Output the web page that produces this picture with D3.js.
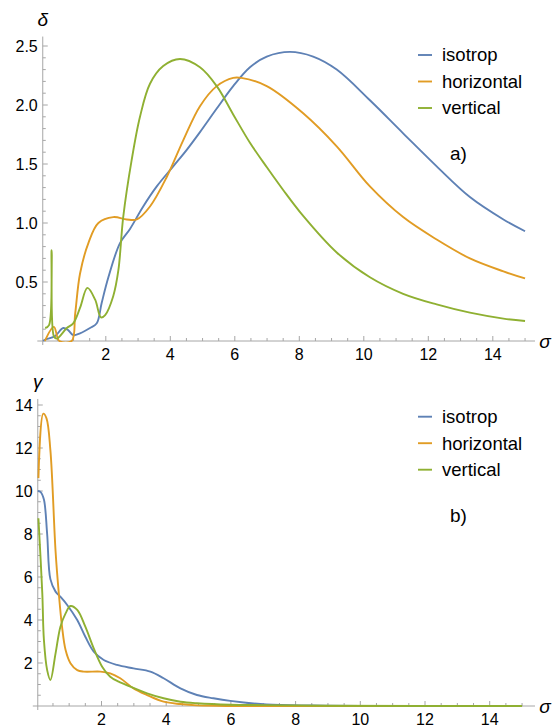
<!DOCTYPE html>
<html>
<head>
<meta charset="utf-8">
<script src="https://cdn.jsdelivr.net/npm/d3@7"></script>
<style>
  body { margin: 0; background: #fff; }
  text { font-family: "Liberation Sans", Arial, sans-serif; fill: #000; }
</style>
</head>
<body>
<svg id="chart" width="555" height="727"></svg>
<script>
// series names + colours (Mathematica defaults)
var seriesNames = ['isotrop', 'horizontal', 'vertical'];
var seriesColors = ['#5E81B5', '#E19C24', '#8FB032'];

// panel a) delta(sigma)
var deltaIsoSigma = [0.06, 0.11, 0.42, 0.68, 0.84, 0.99, 1.2, 1.51, 1.72, 1.87, 2.08, 2.44, 2.75, 3.16, 3.58, 4.09, 4.51, 4.92, 5.44, 5.95, 6.47, 6.99, 7.71, 8.43, 9.16, 10.19, 11.22, 12.26, 13.29, 14.33, 15];
var deltaIso      = [0.0, 0.01, 0.04, 0.11, 0.09, 0.05, 0.065, 0.11, 0.15, 0.32, 0.54, 0.83, 0.95, 1.14, 1.31, 1.48, 1.62, 1.77, 1.97, 2.16, 2.32, 2.41, 2.45, 2.41, 2.3, 2.04, 1.76, 1.48, 1.22, 1.03, 0.93];

var deltaHorSigma = [0.11, 0.39, 0.56, 0.94, 1.05, 1.2, 1.46, 1.77, 2.23, 2.65, 2.96, 3.37, 3.89, 4.4, 4.92, 5.44, 5.95, 6.2, 6.99, 8.12, 9.16, 10.19, 11.22, 12.26, 13.29, 14.33, 15];
var deltaHor      = [0.0, 0.12, 0.0, 0.0, 0.23, 0.57, 0.83, 1.0, 1.05, 1.03, 1.03, 1.14, 1.39, 1.7, 1.99, 2.16, 2.23, 2.23, 2.16, 1.93, 1.65, 1.31, 1.05, 0.86, 0.7, 0.59, 0.53];

var deltaVerSigma = [0.12, 0.24, 0.32, 0.39, 0.48, 0.79, 0.99, 1.2, 1.43, 1.67, 1.85, 1.98, 2.23, 2.39, 2.54, 2.8, 3.06, 3.37, 3.78, 4.3, 4.92, 5.44, 5.95, 6.47, 7.0, 7.5, 8.12, 9.16, 10.19, 11.22, 12.26, 13.29, 14.33, 15];
var deltaVer      = [0.11, 0.135, 0.77, 0.04, 0.02, 0.11, 0.15, 0.28, 0.45, 0.35, 0.2, 0.22, 0.38, 0.6, 1.05, 1.53, 1.9, 2.18, 2.33, 2.39, 2.32, 2.16, 1.92, 1.68, 1.47, 1.28, 1.06, 0.75, 0.54, 0.4, 0.31, 0.24, 0.19, 0.17];

// panel b) gamma(sigma)
var gammaIsoSigma = [0.03, 0.12, 0.22, 0.32, 0.42, 0.58, 0.73, 0.94, 1.25, 1.5, 1.76, 2.07, 2.48, 2.99, 3.51, 3.92, 4.44, 4.95, 5.46, 5.98, 7.1, 8.5, 10, 15];
var gammaIso      = [10.0, 9.95, 9.6, 8.0, 5.9, 5.32, 5.08, 4.7, 4.0, 3.22, 2.53, 2.14, 1.91, 1.75, 1.6, 1.29, 0.82, 0.51, 0.36, 0.24, 0.07, 0.02, 0.005, 0.0];

var gammaHorSigma = [0.05, 0.2, 0.3, 0.42, 0.58, 0.68, 0.78, 0.89, 1.04, 1.25, 1.45, 1.97, 2.27, 2.58, 2.99, 3.41, 3.92, 4.44, 4.95, 6, 15];
var gammaHor      = [10.6, 13.6, 13.38, 11.9, 7.2, 5.24, 3.69, 2.6, 1.99, 1.67, 1.6, 1.6, 1.52, 1.29, 0.82, 0.51, 0.2, 0.09, 0.03, 0.0, 0.0];

var gammaVerSigma = [0.05, 0.17, 0.22, 0.32, 0.42, 0.58, 0.73, 0.89, 1.04, 1.25, 1.5, 1.76, 2.02, 2.27, 2.53, 2.89, 3.41, 3.92, 4.44, 4.95, 5.98, 7, 9, 15];
var gammaVer      = [8.73, 5.24, 3.07, 1.67, 1.21, 2.45, 3.69, 4.31, 4.65, 4.47, 3.69, 2.68, 1.83, 1.36, 1.13, 0.9, 0.59, 0.36, 0.2, 0.13, 0.06, 0.04, 0.01, 0.0];

var xTicks = [2, 4, 6, 8, 10, 12, 14];
var deltaTicks = [0.5, 1.0, 1.5, 2.0, 2.5];
var gammaTicks = [2, 4, 6, 8, 10, 12, 14];

var svg = d3.select('#chart');
svg.append('rect').attr('width', 555).attr('height', 727).attr('fill', '#fff');

function zip(xs, ys) {
    return xs.map(function(x, i) { return [x, ys[i]]; });
}

function drawPanel(p) {
    var g = svg.append('g');
    var x = d3.scaleLinear().domain([0, 15]).range([p.x0, p.x0 + 15 * p.xUnit]);
    var y = d3.scaleLinear().domain([0, p.yMax]).range([p.y0, p.y0 - p.yMax * p.yUnit]);
    var axisColor = '#a6a6a6';
    var ax = x(p.axisAt);

    // clip curves to the plot range, like Mathematica does
    svg.append('clipPath').attr('id', p.id + '-clip').append('rect')
        .attr('x', 0).attr('y', y(p.yMax)).attr('width', 555).attr('height', p.y0 + 1 - y(p.yMax));

    // minor + major ticks on x
    var xMinor = d3.range(0.5, 15.01, 0.5);
    g.selectAll('.xt').data(xMinor).enter().append('line')
        .attr('x1', function(d) { return x(d); }).attr('x2', function(d) { return x(d); })
        .attr('y1', p.y0).attr('y2', function(d) { return p.y0 - (d % 2 === 0 ? 5 : 3); })
        .attr('stroke', axisColor).attr('stroke-width', 1);
    var yMinor = d3.range(p.yMinor, p.yMax + 1e-6, p.yMinor);
    g.selectAll('.yt').data(yMinor).enter().append('line')
        .attr('x1', ax).attr('x2', function(d) {
            var major = p.yTicks.some(function(t) { return Math.abs(t - d) < 1e-6; });
            return ax + (major ? 5 : 3);
        })
        .attr('y1', function(d) { return y(d); }).attr('y2', function(d) { return y(d); })
        .attr('stroke', axisColor).attr('stroke-width', 1);

    // axis lines
    g.append('line').attr('x1', p.x0 - 4).attr('x2', 535).attr('y1', p.y0).attr('y2', p.y0)
        .attr('stroke', axisColor).attr('stroke-width', 1);
    g.append('line').attr('x1', ax).attr('x2', ax).attr('y1', p.y0 + 4).attr('y2', y(p.yMax))
        .attr('stroke', axisColor).attr('stroke-width', 1);

    // tick labels
    g.selectAll('.xl').data(xTicks).enter().append('text')
        .attr('x', function(d) { return x(d); }).attr('y', p.y0 + 19)
        .attr('text-anchor', 'middle').attr('font-size', 16)
        .text(function(d) { return d; });
    g.selectAll('.yl').data(p.yTicks).enter().append('text')
        .attr('x', ax - 5).attr('y', function(d) { return y(d); })
        .attr('dy', '0.35em').attr('text-anchor', 'end').attr('font-size', 16)
        .text(p.yFormat);

    // axis names
    g.append('text').attr('x', ax).attr('y', y(p.yMax) - 11)
        .attr('text-anchor', 'middle').attr('font-size', 19).attr('font-style', 'italic')
        .text(p.yName);
    g.append('text').attr('x', 545).attr('y', p.y0).attr('dy', '0.35em')
        .attr('text-anchor', 'middle').attr('font-size', 19).attr('font-style', 'italic')
        .text('σ');

    // curves
    var line = d3.line()
        .x(function(d) { return x(d[0]); })
        .y(function(d) { return y(d[1]); })
        .curve(d3.curveCatmullRom.alpha(0.5));
    var curves = g.append('g').attr('clip-path', 'url(#' + p.id + '-clip)');
    p.series.forEach(function(s, i) {
        curves.append('path').datum(s)
            .attr('d', line)
            .attr('fill', 'none')
            .attr('stroke', seriesColors[i])
            .attr('stroke-width', 1.9)
            .attr('stroke-linejoin', 'round');
    });

    // legend
    seriesNames.forEach(function(name, i) {
        var ly = p.legendY + i * 26.5;
        g.append('line').attr('x1', 418).attr('x2', 432).attr('y1', ly).attr('y2', ly)
            .attr('stroke', seriesColors[i]).attr('stroke-width', 1.9);
        g.append('text').attr('x', 442).attr('y', ly).attr('dy', '0.35em')
            .attr('font-size', 18.5).text(name);
    });
    g.append('text').attr('x', 450).attr('y', p.tagY).attr('dy', '0.35em')
        .attr('font-size', 19).text(p.tag);
}

drawPanel({
    id: 'a', x0: 41.3, xUnit: 32.25, axisAt: 0.045,
    y0: 341, yUnit: 118, yMax: 2.58, yMinor: 0.1,
    yTicks: deltaTicks, yFormat: function(d) { return d3.format('.1f')(d); },
    yName: 'δ',
    series: [zip(deltaIsoSigma, deltaIso), zip(deltaHorSigma, deltaHor), zip(deltaVerSigma, deltaVer)],
    legendY: 55, tag: 'a)', tagY: 153
});

drawPanel({
    id: 'b', x0: 36.8, xUnit: 32.35, axisAt: 0.03,
    y0: 706, yUnit: 21.5, yMax: 14.28, yMinor: 0.5,
    yTicks: gammaTicks, yFormat: function(d) { return d; },
    yName: 'γ',
    series: [zip(gammaIsoSigma, gammaIso), zip(gammaHorSigma, gammaHor), zip(gammaVerSigma, gammaVer)],
    legendY: 416.7, tag: 'b)', tagY: 515
});
</script>
</body>
</html>
